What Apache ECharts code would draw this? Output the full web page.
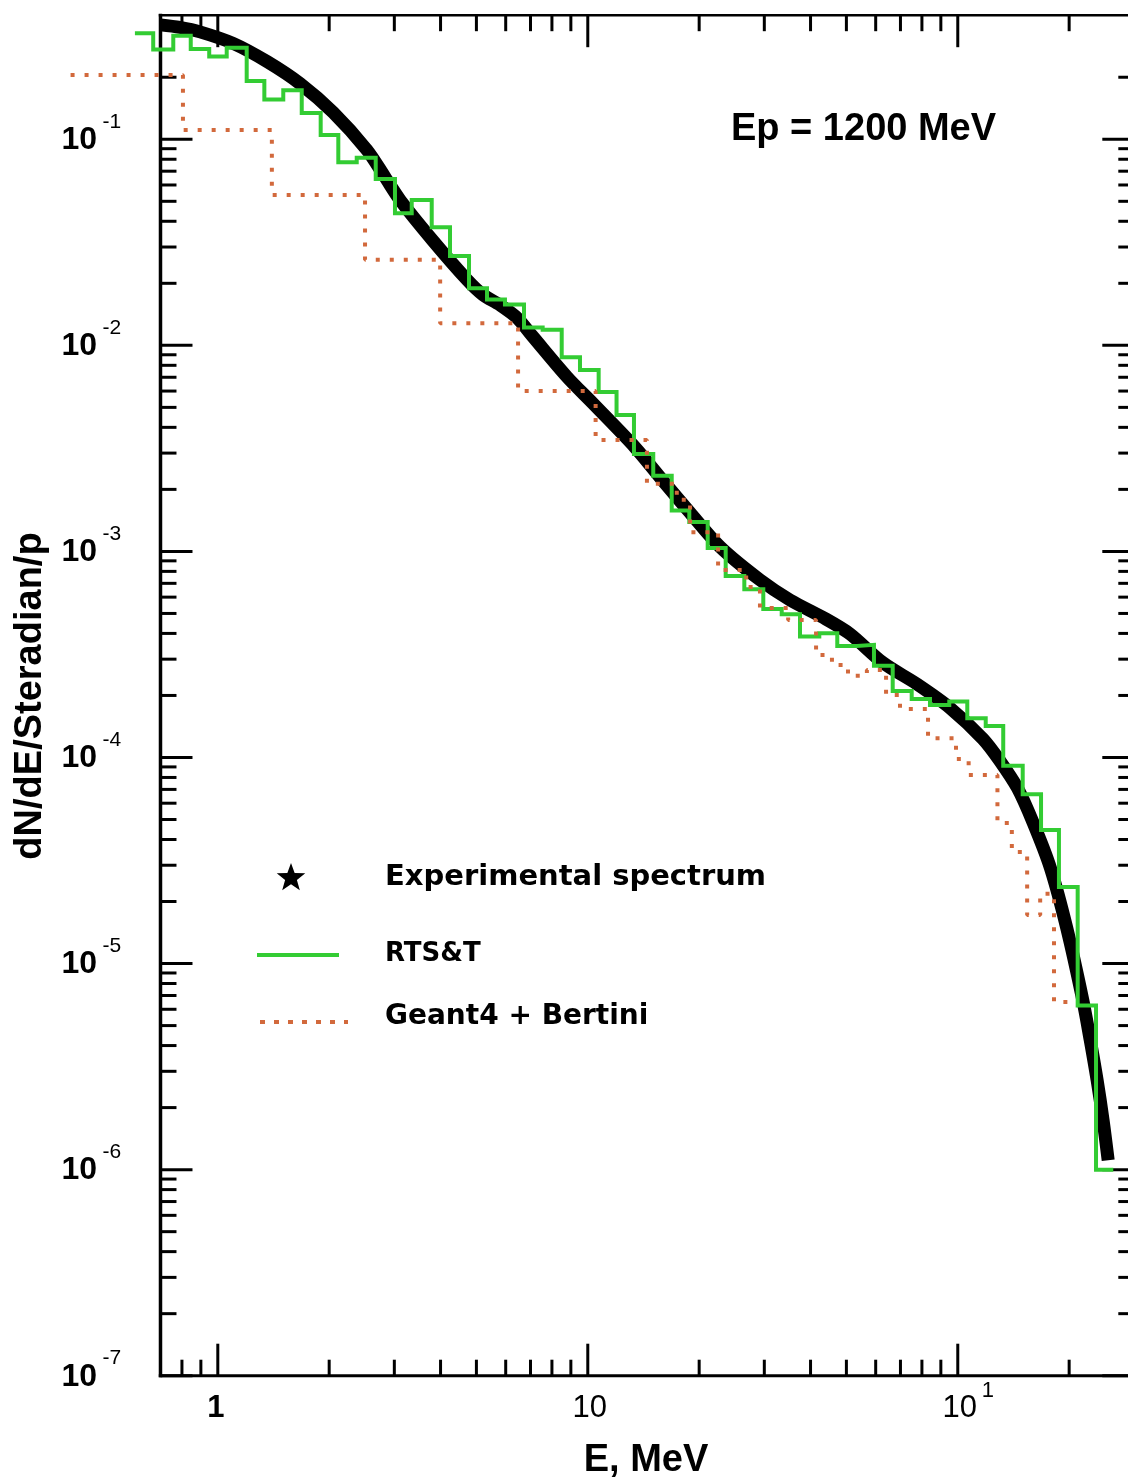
<!DOCTYPE html>
<html>
<head>
<meta charset="utf-8">
<script src="https://cdn.jsdelivr.net/npm/echarts@6/dist/echarts.min.js"></script>
<style>
  html, body { margin: 0; padding: 0; background: #ffffff; }
  #chart { width: 1128px; height: 1482px; }
</style>
</head>
<body>
<div id="chart"></div>
<script>
// ---- Axis ranges (MeV, dN/dE/Steradian/p) ----
// The frame starts at 0.7 MeV; the scale itself reaches further left so the
// first histogram bins can hang out past the frame.
const X_MIN = 0.7, X_MAX = 300, X_VIEW_MIN = 0.39;
const Y_MIN = 1e-7, Y_MAX = 0.4;

// ---- Experimental spectrum ----
const expEnergy = [0.70, 0.79, 0.895, 1.10, 1.36, 1.67, 2.05, 2.53, 2.83, 3.11,
  3.82, 4.72, 5.21, 5.79, 6.44, 7.11, 8.79, 10.3, 13.4, 15.9,
  18.9, 22.8, 29.2, 35.2, 44.0, 51.1, 62.8, 77.6, 95.3, 117,
  130, 145, 160, 178, 197, 218, 228, 238, 247, 255];
const expValues = [0.359, 0.349, 0.332, 0.292, 0.238, 0.186, 0.135, 0.0887, 0.0656, 0.0507,
  0.0321, 0.0208, 0.0176, 0.0157, 0.0136, 0.0110, 0.00702, 0.00525, 0.00321, 0.00222,
  0.00154, 0.00105, 0.000727, 0.000581, 0.000470, 0.000398, 0.000288, 0.000227, 0.000174, 0.000123,
  0.0000962, 0.0000711, 0.0000481, 0.0000291, 0.0000149, 0.00000658, 0.00000426, 0.00000272, 0.00000174, 0.00000111];

// ---- RTS&T histogram: bin edges and bin contents ----
const rtsEdges = [0.597, 0.669, 0.758, 0.845, 0.948, 1.057, 1.197, 1.336, 1.503, 1.686,
  1.897, 2.117, 2.374, 2.672, 3.012, 3.343, 3.786, 4.242, 4.775, 5.341,
  5.972, 6.724, 7.552, 8.502, 9.526, 10.70, 11.96, 13.33, 15.03, 16.86,
  18.81, 21.09, 23.59, 26.49, 29.81, 33.43, 37.46, 42.24, 47.24, 53.32,
  59.36, 66.70, 75.07, 84.12, 94.85, 106.1, 119.0, 132.7, 149.8, 167.9,
  187.7, 210.9, 236.4, 263.2];
const rtsValues = [0.327, 0.273, 0.318, 0.274, 0.252, 0.278, 0.192, 0.156, 0.173, 0.134,
  0.105, 0.0773, 0.0814, 0.0642, 0.0437, 0.0507, 0.0374, 0.0271, 0.0189, 0.0167,
  0.0158, 0.0122, 0.0119, 0.00875, 0.00760, 0.00594, 0.00459, 0.00297, 0.00233, 0.00158,
  0.00139, 0.00104, 0.000760, 0.000655, 0.000526, 0.000495, 0.000386, 0.000401, 0.000348, 0.000352,
  0.000279, 0.000210, 0.000192, 0.000180, 0.000187, 0.000155, 0.000142, 0.0000913, 0.0000663, 0.0000445,
  0.0000235, 0.00000625, 0.00000100];

// ---- Geant4 + Bertini histogram: bin edges and bin contents ----
const geantEdges = [0.40, 0.805, 1.40, 2.50, 3.99, 6.48, 10.5, 14.45, 17.4, 18.9,
  22.5, 26.8, 29.2, 34.8, 41.4, 45.7, 50.5, 56.8, 64.0, 69.8,
  83.1, 98.9, 107, 128, 140, 154, 167, 182, 201];
const geantValues = [0.205, 0.111, 0.0537, 0.0260, 0.0128, 0.00601, 0.00347, 0.00213, 0.00178, 0.00124,
  0.000813, 0.000672, 0.000532, 0.000465, 0.000314, 0.000281, 0.000249, 0.000266, 0.000201, 0.000172,
  0.000124, 0.0000984, 0.0000823, 0.0000481, 0.0000348, 0.0000172, 0.0000218, 0.00000651];

// ---- Tick positions and tick labels ----
const xMajorTicks = [1, 10, 100];
const xMinorTicks = [0.8, 0.9, 2, 3, 4, 5, 6, 7, 8, 9, 20, 30, 40, 50, 60, 70, 80, 90, 200];
const xTickLabels = ['1', '10', '10'];
const xTickLabelExps = ['', '', '1'];
const yMajorTicks = [1e-1, 1e-2, 1e-3, 1e-4, 1e-5, 1e-6, 1e-7];
const yTickLabelExps = ['-1', '-2', '-3', '-4', '-5', '-6', '-7'];
const yMinorTicks = [0.2];
for (let k = -7; k <= -2; k++) {
  for (let m = 2; m <= 9; m++) yMinorTicks.push(+(m * Math.pow(10, k)).toPrecision(3));
}

// Histogram polyline for a step line: left edge of each bin, plus the closing right edge
function stepData(edges, values) {
  const out = values.map((v, i) => [edges[i], v]);
  out.push([edges[edges.length - 1], values[values.length - 1]]);
  return out;
}

const FONT = '"Liberation Sans", Arial, sans-serif';
const LEG_FONT = '"DejaVu Sans", sans-serif';
const GREEN = '#33cc33';
const ORANGE = '#d2693c';

const xTickData = xMajorTicks.map(v => [v, Y_MIN, 1]).concat(xMinorTicks.map(v => [v, Y_MIN, 0]));
const yTickData = yMajorTicks.map(v => [X_MIN, v, 1]).concat(yMinorTicks.map(v => [X_MIN, v, 0]));
const xLabelData = xMajorTicks.map((v, i) => [v, Y_MIN, i]);
const yLabelData = yMajorTicks.map((v, i) => [X_MIN, v, i]);

function segment(x1, y1, x2, y2, w) {
  return { type: 'line', shape: { x1, y1, x2, y2 }, style: { stroke: '#000', lineWidth: w || 3 } };
}

const hiddenAxisParts = {
  axisLine: { show: false }, axisTick: { show: false }, axisLabel: { show: false },
  splitLine: { show: false }, minorTick: { show: false }
};

const chart = echarts.init(document.getElementById('chart'), null, { renderer: 'canvas' });

chart.setOption({
  backgroundColor: '#ffffff',
  animation: false,
  grid: { left: 66.5, top: 15.2, width: 1067.8, height: 1360.5, outerBoundsMode: 'none', containLabel: false },
  xAxis: [Object.assign({ type: 'log', logBase: 10, min: X_VIEW_MIN, max: X_MAX, position: 'bottom' }, hiddenAxisParts)],
  yAxis: [Object.assign({ type: 'log', logBase: 10, min: Y_MIN, max: Y_MAX, position: 'left' }, hiddenAxisParts)],
  series: [
    {
      // plot frame: left axis, bottom axis and top axis
      name: 'frame', type: 'custom', coordinateSystem: 'cartesian2d', silent: true, clip: false, z: 1,
      encode: { x: 0, y: 1 }, data: [[X_MIN, Y_MIN]],
      renderItem(params, api) {
        const bl = api.coord([X_MIN, Y_MIN]);
        const tl = api.coord([X_MIN, Y_MAX]);
        const br = api.coord([X_MAX, Y_MIN]);
        const tr = api.coord([X_MAX, Y_MAX]);
        return { type: 'group', children: [
          segment(bl[0], bl[1] + 1.5, tl[0], tl[1] - 1.5, 3.5),
          segment(bl[0] - 1.7, bl[1], br[0], br[1], 3),
          segment(tl[0] - 1.7, tl[1], tr[0], tr[1], 2.5)
        ] };
      }
    },
    {
      name: 'xTicks', type: 'custom', coordinateSystem: 'cartesian2d', silent: true, clip: false, z: 1,
      encode: { x: 0, y: 1 }, data: xTickData,
      renderItem(params, api) {
        const v = api.value(0);
        const len = api.value(2) === 1 ? 32 : 16;
        const b = api.coord([v, Y_MIN]);
        const t = api.coord([v, Y_MAX]);
        return { type: 'group', children: [
          segment(b[0], b[1], b[0], b[1] - len),
          segment(t[0], t[1], t[0], t[1] + len)
        ] };
      }
    },
    {
      name: 'yTicks', type: 'custom', coordinateSystem: 'cartesian2d', silent: true, clip: false, z: 1,
      encode: { x: 0, y: 1 }, data: yTickData,
      renderItem(params, api) {
        const v = api.value(1);
        const len = api.value(2) === 1 ? 32 : 16;
        const l = api.coord([X_MIN, v]);
        const r = api.coord([X_MAX, v]);
        return { type: 'group', children: [
          segment(l[0], l[1], l[0] + len, l[1]),
          segment(r[0], r[1], r[0] - len, r[1])
        ] };
      }
    },
    {
      name: 'xLabels', type: 'custom', coordinateSystem: 'cartesian2d', silent: true, clip: false, z: 1,
      encode: { x: 0, y: 1 }, data: xLabelData,
      renderItem(params, api) {
        const i = api.value(2);
        const p = api.coord([api.value(0), Y_MIN]);
        const exp = xTickLabelExps[i];
        const isOne = xTickLabels[i] === '1';
        const cx = isOne ? p[0] - 2 : p[0] + 2;
        const children = [{
          type: 'text', x: cx, y: p[1] + 33,
          style: { text: xTickLabels[i], fill: '#000', font: (isOne ? 'bold ' : '') + '31px ' + FONT,
                   align: 'center', verticalAlign: 'middle' }
        }];
        if (exp) {
          children.push({
            type: 'text', x: cx + 22, y: p[1] + 15,
            style: { text: exp, fill: '#000', font: '22px ' + FONT, align: 'left', verticalAlign: 'middle' }
          });
        }
        return { type: 'group', children };
      }
    },
    {
      name: 'yLabels', type: 'custom', coordinateSystem: 'cartesian2d', silent: true, clip: false, z: 1,
      encode: { x: 0, y: 1 }, data: yLabelData,
      renderItem(params, api) {
        const i = api.value(2);
        const p = api.coord([X_MIN, api.value(1)]);
        return { type: 'group', children: [
          {
            type: 'text', x: p[0] - 63.5, y: p[1] + 1,
            style: { text: '10', fill: '#000', font: 'bold 32px ' + FONT, align: 'right', verticalAlign: 'middle' }
          },
          {
            type: 'text', x: p[0] - 58, y: p[1] - 17,
            style: { text: yTickLabelExps[i], fill: '#000', font: '21px ' + FONT, align: 'left', verticalAlign: 'middle' }
          }
        ] };
      }
    },
    {
      name: 'Experimental spectrum', type: 'line', smooth: 0.3, symbol: 'none', z: 2, clip: false,
      data: expEnergy.map((e, i) => [e, expValues[i]]),
      lineStyle: { color: '#000000', width: 13, cap: 'butt', join: 'round' }
    },
    {
      name: 'RTS&T', type: 'line', step: 'end', symbol: 'none', z: 3, clip: false,
      data: stepData(rtsEdges, rtsValues),
      lineStyle: { color: GREEN, width: 4, join: 'miter' }
    },
    {
      name: 'Geant4 + Bertini', type: 'line', step: 'end', symbol: 'none', z: 4, clip: false,
      data: stepData(geantEdges, geantValues),
      lineStyle: { color: ORANGE, width: 4, type: [4, 10] }
    }
  ],
  graphic: [
    // beam energy annotation
    { type: 'text', left: 731, top: 111, z: 10,
      style: { text: 'Ep = 1200 MeV', fill: '#000', font: 'bold 38px ' + FONT } },
    // axis titles
    { type: 'text', x: 646, y: 1461, z: 10,
      style: { text: 'E, MeV', fill: '#000', font: 'bold 38px ' + FONT, align: 'center', verticalAlign: 'middle' } },
    { type: 'text', x: 31, y: 696, rotation: Math.PI / 2, z: 10,
      style: { text: 'dN/dE/Steradian/p', fill: '#000', font: 'bold 38px ' + FONT, align: 'center', verticalAlign: 'middle' } },
    // legend
    { type: 'polygon', z: 10,
      shape: { points: (function () {
        const pts = [], cx = 291, cy = 878, R = 15, r = 6.2;
        for (let k = 0; k < 10; k++) {
          const a = -Math.PI / 2 + k * Math.PI / 5;
          const rad = k % 2 === 0 ? R : r;
          pts.push([cx + rad * Math.cos(a), cy + rad * Math.sin(a)]);
        }
        return pts;
      })() },
      style: { fill: '#000' } },
    { type: 'text', x: 385, y: 877, z: 10,
      style: { text: 'Experimental spectrum', fill: '#000', font: 'bold 29px ' + LEG_FONT, verticalAlign: 'middle' } },
    { type: 'line', z: 10, shape: { x1: 257, y1: 955, x2: 339, y2: 955 },
      style: { stroke: GREEN, lineWidth: 4 } },
    { type: 'text', x: 385, y: 954, z: 10,
      style: { text: 'RTS&T', fill: '#000', font: 'bold 26px ' + LEG_FONT, verticalAlign: 'middle' } },
    { type: 'line', z: 10, shape: { x1: 260, y1: 1022, x2: 348, y2: 1022 },
      style: { stroke: ORANGE, lineWidth: 4, lineDash: [5, 9] } },
    { type: 'text', x: 385, y: 1017, z: 10,
      style: { text: 'Geant4 + Bertini', fill: '#000', font: 'bold 28px ' + LEG_FONT, verticalAlign: 'middle' } }
  ]
});
</script>
</body>
</html>
